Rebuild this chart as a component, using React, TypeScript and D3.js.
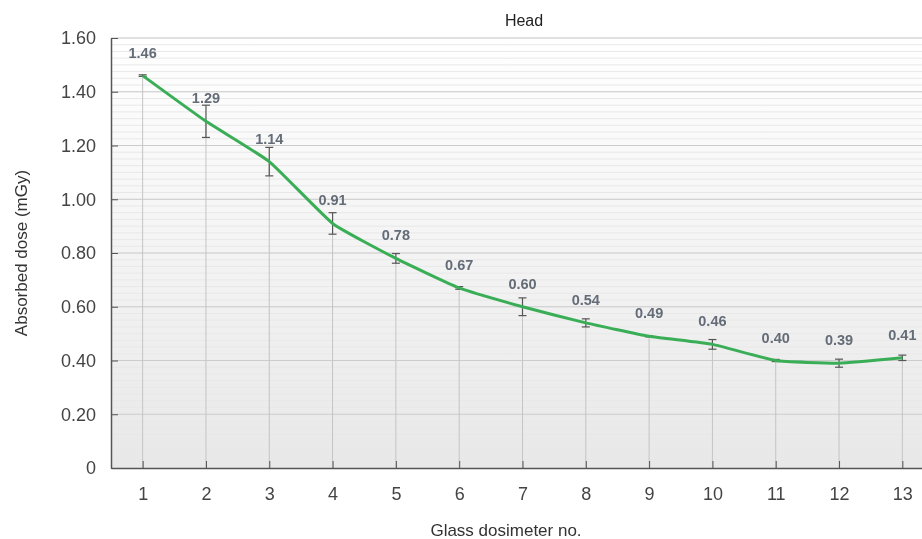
import React, { useRef, useEffect } from 'react';
import * as d3 from 'd3';

const dosimeters = [1, 2, 3, 4, 5, 6, 7, 8, 9, 10, 11, 12, 13];
const doseValues = [1.46, 1.29, 1.14, 0.91, 0.78, 0.67, 0.6, 0.54, 0.49, 0.46, 0.4, 0.39, 0.41];
const doseErrors = [0.003, 0.06, 0.053, 0.04, 0.018, 0.005, 0.033, 0.015, 0.002, 0.018, 0.004, 0.015, 0.01];
const yTicks = [0, 0.2, 0.4, 0.6, 0.8, 1.0, 1.2, 1.4, 1.6];

const App = () => {
  const chartRef = useRef<SVGSVGElement>(null);

  useEffect(() => {
    const width = 922;
    const height = 539;
    const margin = { top: 38, right: -12, bottom: 71, left: 111 };
    const font = '"Liberation Sans", Arial, sans-serif';

    const svg = d3.select(chartRef.current);
    svg.selectAll('*').remove();
    svg.attr('width', width).attr('height', height);

    const x = d3.scaleLinear()
      .domain([0.5, 13.5])
      .range([margin.left, width - margin.right]);

    const y = d3.scaleLinear()
      .domain([0, 1.6])
      .range([height - margin.bottom, margin.top]);

    //background gradient
    const grad = svg.append('defs').append('linearGradient')
      .attr('id', 'bg').attr('x1', 0).attr('y1', 0).attr('x2', 0).attr('y2', 1);
    grad.append('stop').attr('offset', '0%').attr('stop-color', '#ffffff');
    grad.append('stop').attr('offset', '100%').attr('stop-color', '#e8e8e8');

    svg.append('rect')
      .attr('x', margin.left)
      .attr('y', margin.top)
      .attr('width', width - margin.left)
      .attr('height', y(0) - margin.top)
      .attr('fill', 'url(#bg)');

    //minor gridlines
    const minor = d3.range(0, 1.6001, 0.025);
    svg.append('g')
      .selectAll('line')
      .data(minor)
      .join('line')
      .attr('x1', margin.left)
      .attr('x2', width)
      .attr('y1', d => y(d))
      .attr('y2', d => y(d))
      .attr('stroke', '#e8e8e8')
      .attr('stroke-width', 1);

    //major gridlines
    svg.append('g')
      .selectAll('line')
      .data(yTicks.slice(1))
      .join('line')
      .attr('x1', margin.left)
      .attr('x2', width)
      .attr('y1', d => y(d))
      .attr('y2', d => y(d))
      .attr('stroke', '#cccccc')
      .attr('stroke-width', 1);

    //drop lines
    svg.append('g')
      .selectAll('line')
      .data(dosimeters)
      .join('line')
      .attr('x1', d => x(d))
      .attr('x2', d => x(d))
      .attr('y1', y(0))
      .attr('y2', (d, i) => y(doseValues[i]))
      .attr('stroke', '#c4c4c4')
      .attr('stroke-width', 1);

    //axes
    const yAxis = svg.append('g')
      .attr('transform', `translate(${margin.left},0)`)
      .call(d3.axisLeft(y).tickValues(yTicks).tickSizeInner(-7).tickSizeOuter(0)
        .tickFormat(d => (d === 0 ? '0' : d3.format('.2f')(d as number))));
    yAxis.select('.domain').attr('stroke', '#555').attr('stroke-width', 1.5);
    yAxis.selectAll('.tick line').attr('stroke', '#555');
    yAxis.selectAll('text')
      .attr('x', -15)
      .style('font-family', font)
      .style('font-size', '18px')
      .style('fill', '#444');

    const xAxis = svg.append('g')
      .attr('transform', `translate(0,${y(0)})`)
      .call(d3.axisBottom(x).tickValues(dosimeters).tickSizeInner(-7).tickSizeOuter(0)
        .tickFormat(d3.format('d')));
    xAxis.select('.domain').attr('stroke', '#555').attr('stroke-width', 1.5);
    xAxis.selectAll('.tick line').attr('stroke', '#555');
    xAxis.selectAll('text')
      .attr('y', 19)
      .style('font-family', font)
      .style('font-size', '18px')
      .style('fill', '#444');

    //error bars
    const err = svg.append('g').attr('stroke', '#555').attr('stroke-width', 1.2);
    dosimeters.forEach((d, i) => {
      const cx = x(d);
      const top = y(doseValues[i] + doseErrors[i]);
      const bot = y(doseValues[i] - doseErrors[i]);
      err.append('line').attr('x1', cx).attr('x2', cx).attr('y1', top).attr('y2', bot);
      err.append('line').attr('x1', cx - 4).attr('x2', cx + 4).attr('y1', top).attr('y2', top);
      err.append('line').attr('x1', cx - 4).attr('x2', cx + 4).attr('y1', bot).attr('y2', bot);
    });

    //line
    const line = d3.line<number>()
      .x((d, i) => x(dosimeters[i]))
      .y(d => y(d))
      .curve(d3.curveCardinal.tension(0.6));

    svg.append('path')
      .datum(doseValues)
      .attr('d', line)
      .attr('fill', 'none')
      .attr('stroke', '#3aae57')
      .attr('stroke-width', 3);

    //value labels
    svg.append('g')
      .selectAll('text')
      .data(doseValues)
      .join('text')
      .attr('x', (d, i) => x(dosimeters[i]))
      .attr('y', d => y(d) - 18)
      .attr('text-anchor', 'middle')
      .style('font-family', font)
      .style('font-size', '14.5px')
      .style('font-weight', 'bold')
      .style('fill', '#646c78')
      .text(d => d3.format('.2f')(d));

    //title
    svg.append('text')
      .attr('x', 524)
      .attr('y', 26)
      .attr('text-anchor', 'middle')
      .style('font-family', font)
      .style('font-size', '16px')
      .style('fill', '#222')
      .text('Head');

    //axis titles
    svg.append('text')
      .attr('x', 506)
      .attr('y', 536)
      .attr('text-anchor', 'middle')
      .style('font-family', font)
      .style('font-size', '17px')
      .style('fill', '#333')
      .text('Glass dosimeter no.');

    svg.append('text')
      .attr('transform', `translate(27,253) rotate(-90)`)
      .attr('text-anchor', 'middle')
      .style('font-family', font)
      .style('font-size', '17px')
      .style('fill', '#333')
      .text('Absorbed dose (mGy)');
  }, []);

  return (
    <div style={{ position: 'fixed', left: 0, top: 0 }}>
      <svg ref={chartRef}></svg>
    </div>
  );
};

export default App;
